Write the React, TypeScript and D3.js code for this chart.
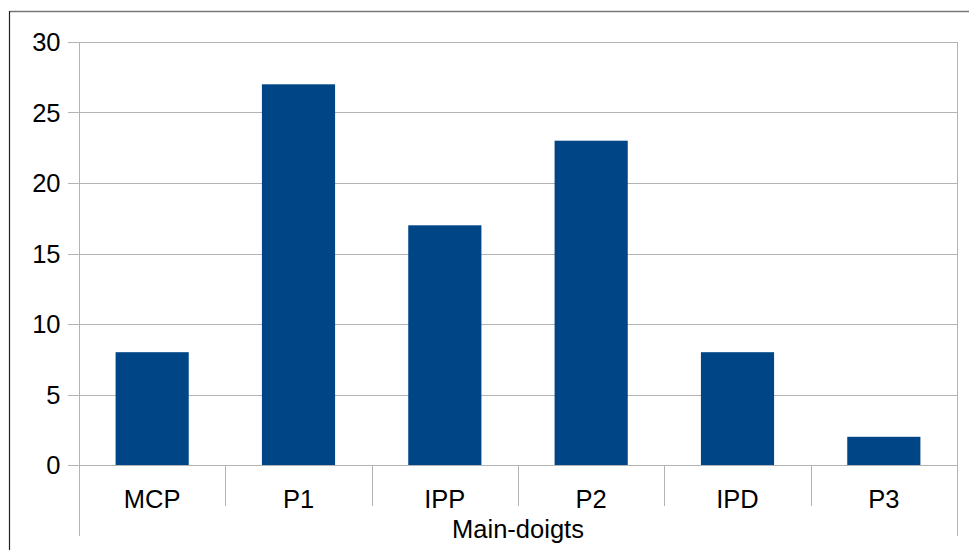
import React from "react";
import * as d3 from "d3";

const categories = ["MCP", "P1", "IPP", "P2", "IPD", "P3"];
const values = [8, 27, 17, 23, 8, 2];
const yTicks = [0, 5, 10, 15, 20, 25, 30];
const xTitle = "Main-doigts";

export default function App() {
  const W = 969, H = 550;
  const left = 79, right = 957, top = 42, bottom = 465;
  const x = d3.scaleBand<string>().domain(categories).range([left, right]).paddingInner(0).paddingOuter(0);
  const y = d3.scaleLinear().domain([0, 30]).range([bottom, top]);
  const bw = x.bandwidth();
  const font = "'Liberation Sans', Arial, sans-serif";
  const fs = 25.5;
  return (
    <svg width={W} height={H} style={{ position: "absolute", left: 0, top: 0 }}>
      <rect x={0} y={0} width={W} height={H} fill="#fff" />
      <line x1={10} x2={W} y1={11.5} y2={11.5} stroke="#777" strokeWidth={1.5} />
      <line x1={9.5} x2={9.5} y1={11} y2={H} stroke="#222" strokeWidth={1.2} />
      {yTicks.map((t) => (
        <g key={t}>
          <line x1={68} x2={right} y1={Math.round(y(t)) + 0.5} y2={Math.round(y(t)) + 0.5} stroke="#b3b3b3" strokeWidth={1} />
          <text x={60.5} y={y(t) + 9} textAnchor="end" fontFamily={font} fontSize={fs} fill="#000">{t}</text>
        </g>
      ))}
      <line x1={left + 0.5} x2={left + 0.5} y1={top} y2={536} stroke="#b3b3b3" />
      <line x1={right + 0.5} x2={right + 0.5} y1={top} y2={536} stroke="#b3b3b3" />
      {categories.slice(1).map((c) => (
        <line key={c} x1={Math.round(x(c)!) + 0.5} x2={Math.round(x(c)!) + 0.5} y1={bottom} y2={506} stroke="#b3b3b3" />
      ))}
      {categories.map((c, i) => (
        <rect key={c} x={x(c)! + bw / 4} y={y(values[i])} width={bw / 2} height={y(0) - y(values[i])} fill="#004586" />
      ))}
      <line x1={left} x2={right} y1={Math.round(y(0)) + 0.5} y2={Math.round(y(0)) + 0.5} stroke="#b3b3b3" />
      {categories.map((c) => (
        <text key={c} x={x(c)! + bw / 2} y={508} textAnchor="middle" fontFamily={font} fontSize={fs} fill="#000">{c}</text>
      ))}
      <text x={(left + right) / 2} y={538} textAnchor="middle" fontFamily={font} fontSize={fs} fill="#000">{xTitle}</text>
    </svg>
  );
}
